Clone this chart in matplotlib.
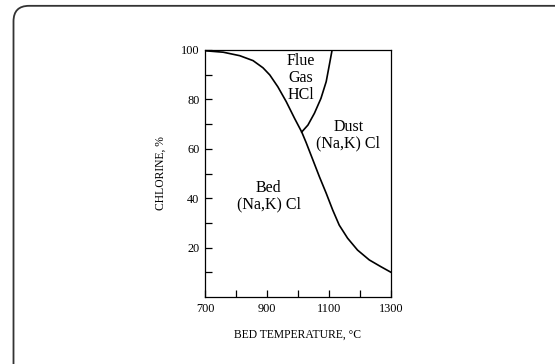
import matplotlib.pyplot as plt
from matplotlib.patches import FancyBboxPatch

# bed (Na,K)Cl boundary
bed_temp = [700, 759, 812, 855, 887, 909, 935, 962, 989, 1012, 1026, 1048,
            1069, 1091, 1112, 1133, 1160, 1192, 1230, 1267, 1300]
bed_cl = [99.7, 99.1, 97.7, 95.7, 92.8, 89.9, 85.1, 79.1, 72.3, 66.8, 62.6, 55.5,
          48.7, 42.0, 35.2, 29.1, 23.8, 19.0, 15.0, 12.3, 10.0]

# flue gas HCl boundary
gas_temp = [1012, 1032, 1053, 1074, 1091, 1101, 1110]
gas_cl = [66.8, 69.6, 74.4, 80.4, 87.2, 93.9, 100]

x_ticks = [700, 800, 900, 1000, 1100, 1200, 1300]
x_labels = ["700", "", "900", "", "1100", "", "1300"]
y_ticks = [10, 20, 30, 40, 50, 60, 70, 80, 90, 100]
y_labels = ["", "20", "", "40", "", "60", "", "80", "", "100"]

region_text = ["Flue\nGas\nHCl", "Dust\n(Na,K) Cl", "Bed\n(Na,K) Cl"]
region_x = [1010, 1162, 905]
region_y = [88.7, 65.6, 40.7]

plt.rcParams['font.family'] = ['Liberation Serif', 'DejaVu Serif']

fig = plt.figure(figsize=(5.55, 3.64), dpi=100)

# rounded frame around the figure (runs off the right and bottom edges)
frame = FancyBboxPatch((13.5 / 555, -0.1), 1.05, 1.084, transform=fig.transFigure,
                       boxstyle="round,pad=0,rounding_size=0.028",
                       fill=False, edgecolor="#333333", linewidth=1.3,
                       mutation_aspect=555 / 364)
fig.patches.append(frame)

ax = fig.add_axes([205 / 555, 1 - 297 / 364, 186 / 555, 247 / 364])

ax.plot(bed_temp, bed_cl, color="black", lw=1.2, solid_joinstyle="round")
ax.plot(gas_temp, gas_cl, color="black", lw=1.2, solid_joinstyle="round")

for t, x, y in zip(region_text, region_x, region_y):
    ax.text(x, y, t, ha="center", va="center", fontsize=11.5, linespacing=1.05)

ax.set_xlim(700, 1300)
ax.set_ylim(0, 100)
ax.set_xticks(x_ticks)
ax.set_xticklabels(x_labels)
ax.set_yticks(y_ticks)
ax.set_yticklabels(y_labels)
ax.tick_params(direction="in", length=5, width=0.9, labelsize=8.8, pad=4)
for s in ax.spines.values():
    s.set_linewidth(0.9)

ax.set_xlabel("BED TEMPERATURE, °C", fontsize=8.4, labelpad=10)
ax.set_ylabel("CHLORINE, %", fontsize=8.4, labelpad=10)

fig.savefig("out.png", dpi=100)
